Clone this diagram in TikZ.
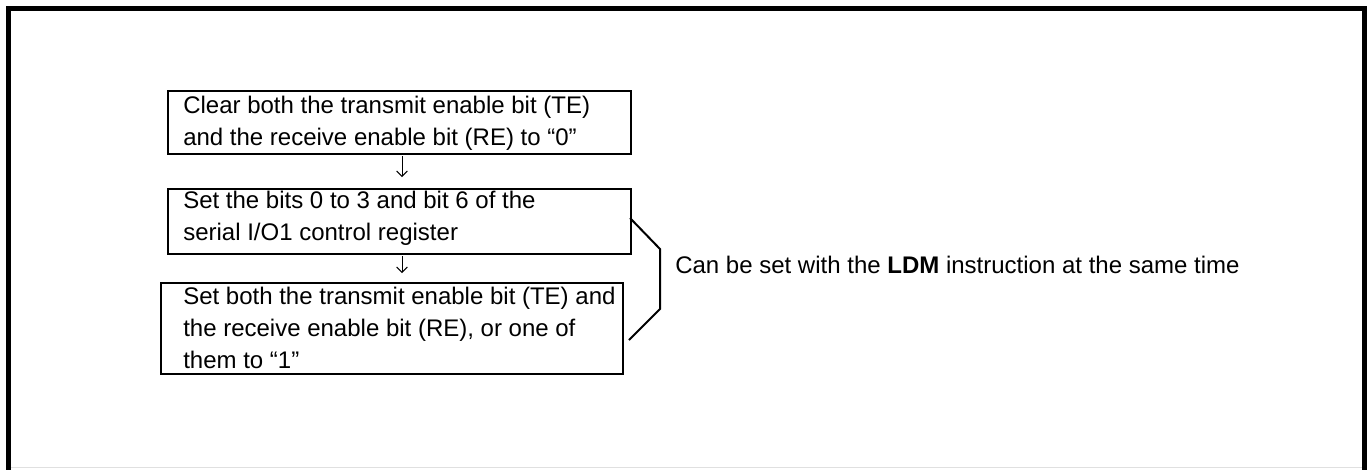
\documentclass[tikz,border=0pt]{standalone}
\usepackage{fontspec}
\setmainfont{Liberation Sans}
\usetikzlibrary{arrows.meta}
\begin{document}
\begin{tikzpicture}[x=0.75pt,y=-0.75pt,
  box/.style={draw, line width=1.5pt, inner sep=0pt, anchor=north west},
  txt/.style={font=\fontsize{18}{24}\selectfont, inner sep=0pt, anchor=north west, align=left},
  lbl/.style={font=\fontsize{18}{24}\selectfont, inner sep=0pt, anchor=base west},
  arr/.style={line width=0.75pt, -{Straight Barb[length=4pt,width=8pt]}},
  bracket/.style={line width=1.5pt, line join=miter}]
\useasboundingbox (0,0) rectangle (1369,469);
% outer frame
\draw[line width=3.75pt] (8.5,470) -- (8.5,8.5) -- (1364.5,8.5) -- (1364.5,470);
\draw[black!12, line width=0.75pt] (11,467.5) -- (1362,467.5);
% boxes
\node[box, minimum width=463*0.75pt, minimum height=63*0.75pt] (b1) at (167,90) {};
\node[box, minimum width=463*0.75pt, minimum height=65*0.75pt] (b2) at (167,188) {};
\node[box, minimum width=462*0.75pt, minimum height=91*0.75pt] (b3) at (160,282) {};
% texts
\node[txt] (t1) at (183,95.5) {Clear both the transmit enable bit (TE)\\and the receive enable bit (RE) to “0”};
\node[txt] (t2) at (183,190.5) {Set the bits 0 to 3 and bit 6 of the\\serial I/O1 control register};
\node[txt] (t3) at (183,286.5) {Set both the transmit enable bit (TE) and\\the receive enable bit (RE), or one of\\them to “1”};
% arrows
\coordinate (ax) at (402,0);
\draw[arr, shorten <=1pt, shorten >=8.25pt] (b1.south -| ax) -- (b2.north -| ax);
\draw[arr, shorten <=0.75pt, shorten >=6.75pt] (b2.south -| ax) -- (b3.north -| ax);
% bracket
\coordinate (k1) at (630,218);
\coordinate (k2) at (660,249);
\coordinate (k3) at (660,309);
\coordinate (k4) at (629,340);
\draw[bracket] (k1) -- (k2) -- (k3) -- (k4);
\node[lbl] (note) at (675,273) {Can be set with the \textbf{LDM} instruction at the same time};
\end{tikzpicture}
\end{document}
